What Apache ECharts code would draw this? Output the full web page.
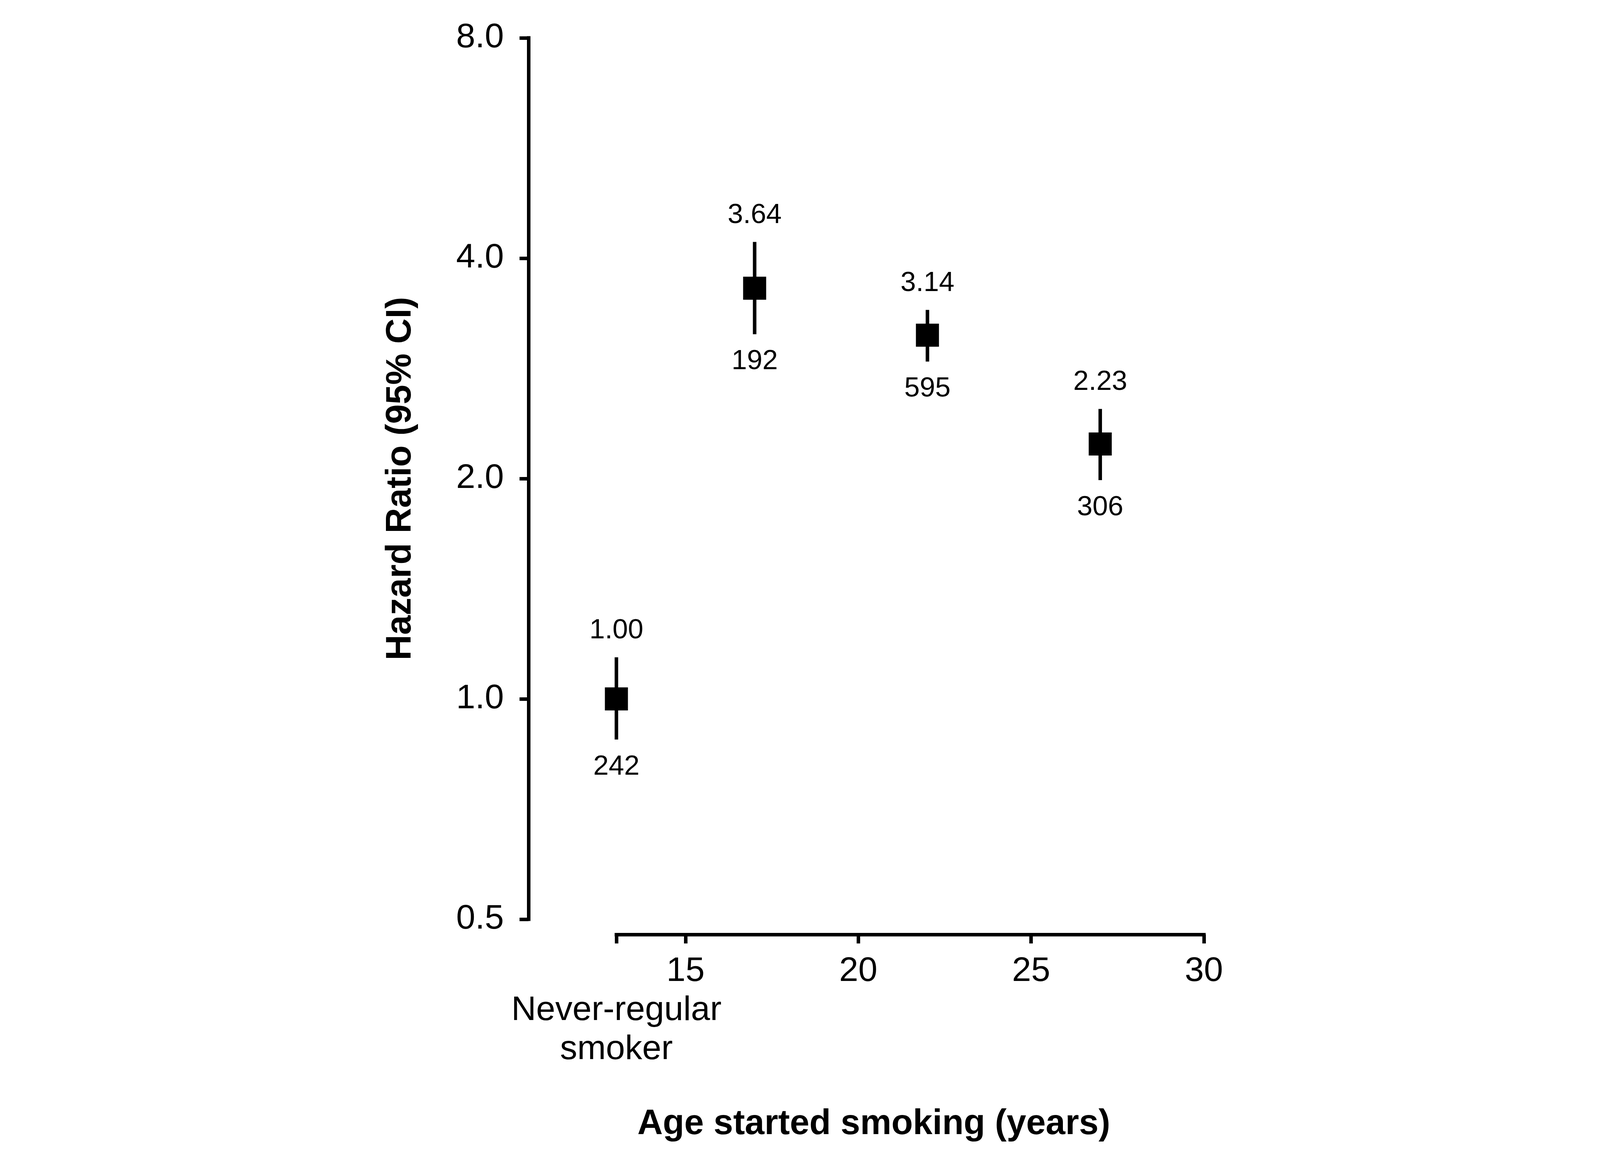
<!DOCTYPE html>
<html>
<head>
<meta charset="utf-8">
<script src="https://cdn.jsdelivr.net/npm/echarts@6/dist/echarts.min.js"></script>
<style>
  html, body { margin: 0; padding: 0; background: #fff; }
  #chart { width: 4200px; height: 3000px; }
</style>
</head>
<body>
<div id="chart"></div>
<script>
// ---- data ----
var agePositions = [13, 17, 22, 27];
var hazardRatios = [1.00, 3.64, 3.14, 2.23];
var hrLabels = ['1.00', '3.64', '3.14', '2.23'];
var ciLower = [0.88, 3.15, 2.89, 1.99];
var ciUpper = [1.14, 4.21, 3.40, 2.49];
var caseCounts = [242, 192, 595, 306];
var xAgeTicks = [15, 20, 25, 30];
var xReferenceTick = [13];
var referenceLabel = ' \nNever-regular\nsmoker';
var yTitle = 'Hazard Ratio (95% CI)';
var xTitle = 'Age started smoking (years)';

var FONT = 'Liberation Sans, Arial, Helvetica, sans-serif';

var seriesData = agePositions.map(function (x, i) {
  return [x, hazardRatios[i], ciLower[i], ciUpper[i], caseCounts[i], i];
});

var chart = echarts.init(document.getElementById('chart'), null, { renderer: 'canvas' });

function makeXAxis(values, formatter, showLine) {
  return {
    type: 'value',
    position: 'bottom',
    min: 13,
    max: 30,
    offset: 39,
    axisLine: { show: showLine, lineStyle: { color: '#000', width: 9, cap: 'square' } },
    axisTick: { show: true, length: 23, customValues: values, lineStyle: { color: '#000', width: 9 } },
    axisLabel: {
      customValues: values,
      showMinLabel: true,
      showMaxLabel: true,
      hideOverlap: false,
      margin: 45,
      color: '#000',
      fontFamily: FONT,
      fontSize: 88,
      lineHeight: 100,
      formatter: formatter
    },
    splitLine: { show: false }
  };
}

var option = {
  backgroundColor: '#ffffff',
  animation: false,
  grid: { left: 1578, right: 1118, top: 97, bottom: 647, containLabel: false },
  xAxis: [
    makeXAxis(xAgeTicks, function (v) { return String(v); }, true),
    makeXAxis(xReferenceTick, function () { return referenceLabel; }, false)
  ],
  yAxis: {
    type: 'log',
    logBase: 2,
    min: 0.5,
    max: 8,
    offset: 225,
    name: yTitle,
    nameLocation: 'middle',
    nameGap: 282,
    nameRotate: 90,
    nameTextStyle: { color: '#000', fontFamily: FONT, fontWeight: 'bold', fontSize: 90 },
    axisLine: { show: true, lineStyle: { color: '#000', width: 9, cap: 'square' } },
    axisTick: { show: true, length: 23, lineStyle: { color: '#000', width: 9 } },
    axisLabel: {
      margin: 63,
      showMinLabel: true,
      showMaxLabel: true,
      color: '#000',
      fontFamily: FONT,
      fontSize: 88,
      formatter: function (v) { return Number(v).toFixed(1); }
    },
    splitLine: { show: false },
    minorTick: { show: false }
  },
  graphic: [{
    type: 'text',
    x: 2237,
    y: 2878,
    style: {
      text: xTitle,
      align: 'center',
      verticalAlign: 'middle',
      fill: '#000',
      font: 'bold 90px ' + FONT
    }
  }],
  series: [{
    type: 'custom',
    xAxisIndex: 0,
    yAxisIndex: 0,
    data: seriesData,
    clip: false,
    renderItem: function (params, api) {
      var x = api.value(0);
      var p = api.coord([x, api.value(1)]);
      var pLo = api.coord([x, api.value(2)]);
      var pHi = api.coord([x, api.value(3)]);
      var idx = api.value(5);
      var sq = 59;
      return {
        type: 'group',
        children: [
          {
            type: 'line',
            shape: { x1: pHi[0], y1: pHi[1], x2: pLo[0], y2: pLo[1] },
            style: { stroke: '#000', lineWidth: 9 }
          },
          {
            type: 'rect',
            shape: { x: p[0] - sq / 2, y: p[1] - sq / 2, width: sq, height: sq },
            style: { fill: '#000' }
          },
          {
            type: 'text',
            style: {
              text: hrLabels[idx],
              x: p[0], y: pHi[1] - 68,
              align: 'center', verticalAlign: 'middle',
              fill: '#000', font: '71px ' + FONT
            }
          },
          {
            type: 'text',
            style: {
              text: String(api.value(4)),
              x: p[0], y: pLo[1] + 70,
              align: 'center', verticalAlign: 'middle',
              fill: '#000', font: '71px ' + FONT
            }
          }
        ]
      };
    }
  }]
};

chart.setOption(option);
</script>
</body>
</html>
